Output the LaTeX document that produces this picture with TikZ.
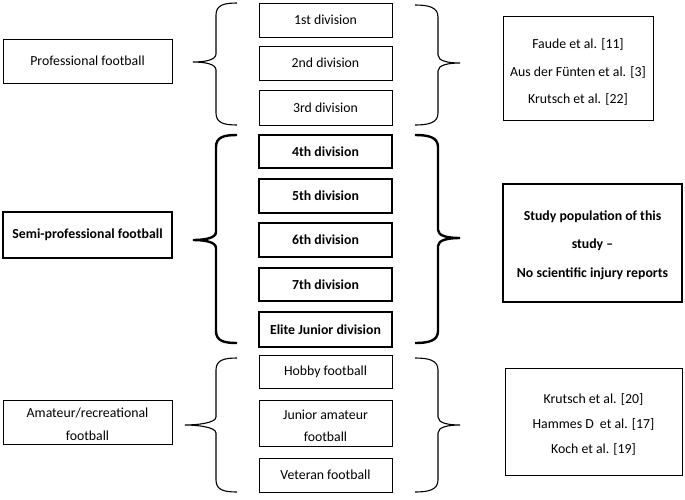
\documentclass[tikz,border=0pt]{standalone}
\usepackage{fontspec}
\setmainfont{Carlito}
\usetikzlibrary{shadows}
\begin{document}
\begin{tikzpicture}[x=1pt,y=-1pt,
  box/.style={draw=black,line width=0.9pt,fill=white,inner sep=0pt,align=center,
    font=\fontsize{13.8}{16}\selectfont,
    drop shadow={shadow xshift=1.2pt,shadow yshift=-1.2pt,opacity=0.25,fill=gray}},
  bbox/.style={box,line width=2.2pt,font=\fontsize{13.8}{16}\selectfont\bfseries},
  txt/.style={inner sep=0pt,align=center},
  brace/.style={draw=black,line width=1.1pt},
  bbrace/.style={draw=black,line width=2.4pt}]
\useasboundingbox (0,0) rectangle (685,499);
\newcommand{\bx}[6]{\node[#1,minimum width=#4-#3,minimum height=#6-#5] (#2) at ({(#3+#4)/2},{(#5+#6)/2})}
% Professional
\bx{box}{pro}{3}{172}{39}{83}{Professional football};
\bx{box}{d1}{259}{392}{3}{37}{1st division};
\bx{box}{d2}{259}{392}{46}{80}{2nd division};
\bx{box}{d3}{259}{392}{90}{125}{3rd division};
\bx{box}{refA}{503}{653}{16}{120}{};
\node[txt,font=\fontsize{13.8}{27.5}\selectfont] (refAt) at ([yshift=-4pt]refA.center) {Faude et al. [11]\\Aus der Fünten et al. [3]\\Krutsch et al. [22]};
% Semi-professional
\bx{bbox}{semi}{3}{172}{212}{258}{Semi-professional football};
\bx{bbox}{d4}{259}{392}{135}{168}{4th division};
\bx{bbox}{d5}{259}{392}{179}{213}{5th division};
\bx{bbox}{d6}{259}{392}{223}{257}{6th division};
\bx{bbox}{d7}{259}{392}{268}{301}{7th division};
\bx{bbox}{elite}{259}{392}{312}{347}{Elite Junior division};
\bx{bbox}{study}{503}{682}{184}{302}{};
\node[txt,font=\fontsize{13.8}{28.5}\selectfont\bfseries] (studyt) at ([yshift=-2pt]study.center) {Study population of this\\study –\\No scientific injury reports};
% Amateur
\bx{box}{ama}{3}{172}{400}{444}{};
\node[txt,font=\fontsize{13.8}{23}\selectfont] (amat) at ([yshift=-2pt]ama.center) {Amateur/recreational\\football};
\bx{box}{hobby}{259}{392}{355}{388}{Hobby football};
\bx{box}{junior}{259}{392}{400}{446}{};
\node[txt,font=\fontsize{13.8}{22}\selectfont] (juniort) at ([yshift=-3pt]junior.center) {Junior amateur\\football};
\bx{box}{vet}{259}{392}{458}{492}{Veteran football};
\bx{box}{refB}{505}{682}{368}{475}{};
\node[txt,font=\fontsize{13.8}{25}\selectfont] (refBt) at ([yshift=-3pt]refB.center) {Krutsch et al. [20]\\Hammes D\ \ et al. [17]\\Koch et al. [19]};
% braces
\newcommand{\leftbr}[5]{% style, top, bottom, tipy, tipx
  \draw[#1] (237,#2) .. controls (224,#2) and (216,{#2+2}) .. (216,{#2+12})
    -- (216,{#4-8}) .. controls (216,{#4-2}) and ({#5+12},#4) .. (#5,#4)
    .. controls ({#5+12},#4) and (216,{#4+2}) .. (216,{#4+8})
    -- (216,{#3-12}) .. controls (216,{#3-2}) and (224,#3) .. (237,#3);}
\newcommand{\rightbr}[4]{% style, top, bottom, tipy
  \draw[#1] (415,#2) .. controls (428,#2) and (438,{#2+2}) .. (438,{#2+12})
    -- (438,{#4-8}) .. controls (438,{#4-2}) and (448,#4) .. (460,#4)
    .. controls (448,#4) and (438,{#4+2}) .. (438,{#4+8})
    -- (438,{#3-12}) .. controls (438,{#3-2}) and (428,#3) .. (415,#3);}
\leftbr{brace}{3}{125}{62}{193}
\rightbr{brace}{5}{125}{63}
\leftbr{bbrace}{135}{343}{240}{193}
\rightbr{bbrace}{135}{343}{238}
\leftbr{brace}{358}{492}{425}{185}
\rightbr{brace}{358}{492}{425}
\end{tikzpicture}
\end{document}
